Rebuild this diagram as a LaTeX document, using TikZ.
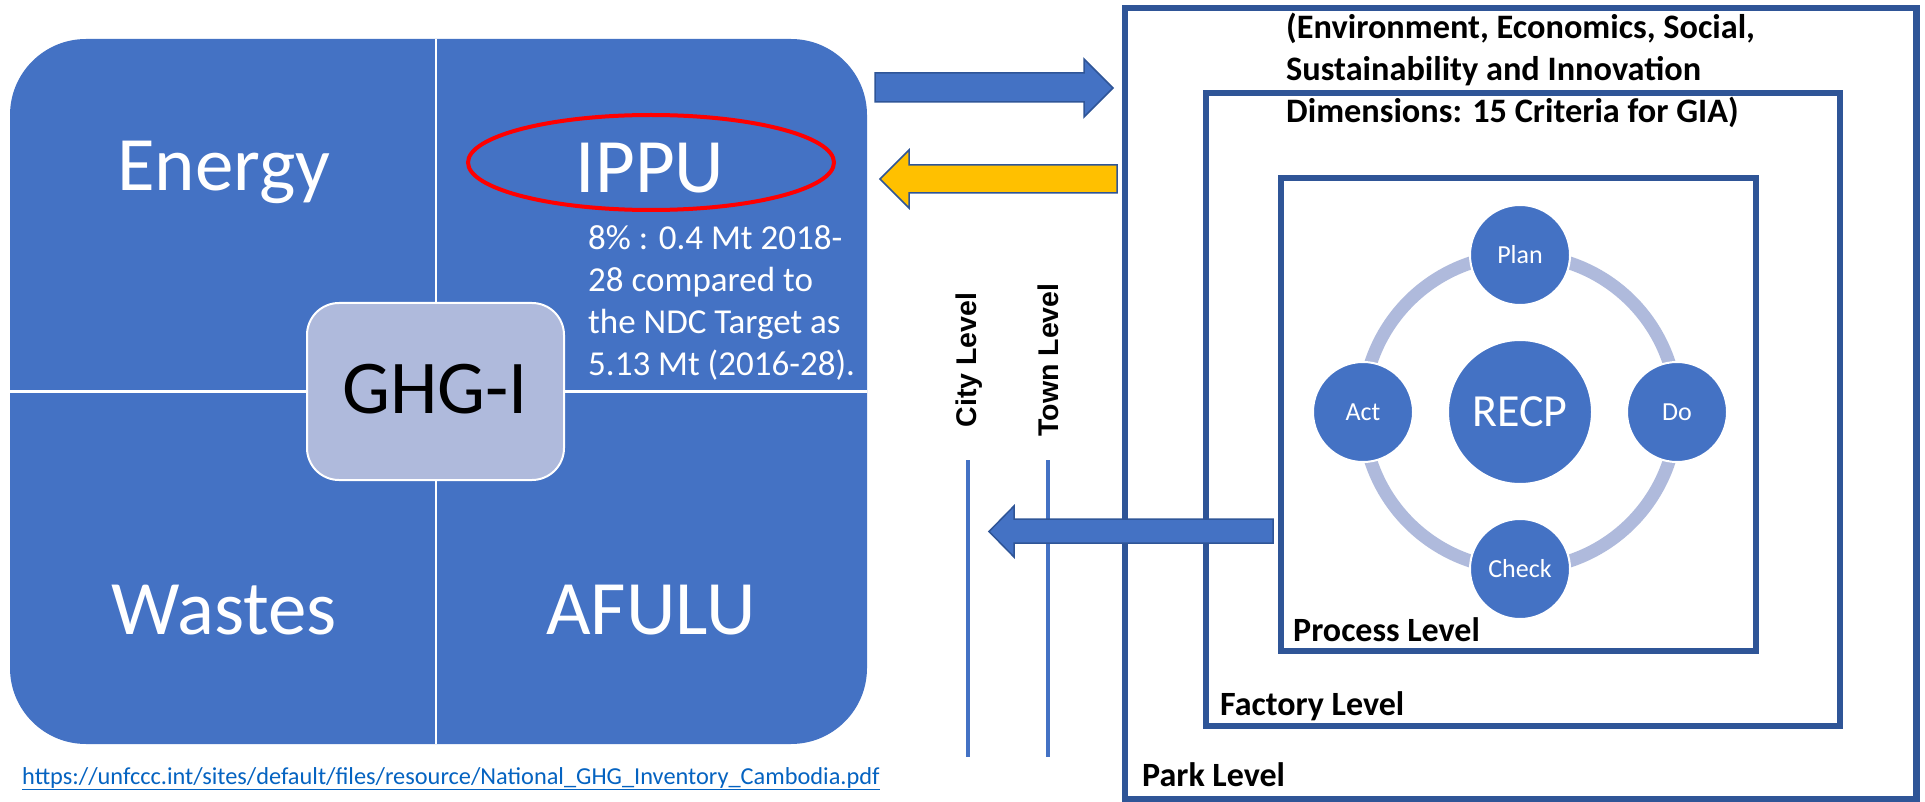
\documentclass[tikz,border=0pt]{standalone}
\usepackage{fontspec}
\setmainfont{Carlito}
\newfontfamily\arialfont{Liberation Sans}
\usetikzlibrary{calc}
\definecolor{blueA}{HTML}{4472C4}
\definecolor{blueD}{HTML}{2F5597}
\definecolor{lav}{HTML}{AFBADC}
\definecolor{gold}{HTML}{FFC000}
\definecolor{linkc}{HTML}{0563C1}
\tikzset{
  quad/.style={text=white, inner sep=0pt, anchor=base, font=\fontsize{77}{92}\selectfont},
  levelbox/.style={draw=blueD, line width=6.5pt},
  lvl/.style={inner sep=0pt, anchor=base west, font=\fontsize{34}{40}\selectfont\bfseries},
  blockarrow/.style={draw=blueD, line width=1.5pt, line join=miter},
  pdca/.style={circle, fill=blueA, draw=white, line width=2pt, text=white, inner sep=0pt, minimum size=100pt, font=\fontsize{26}{30}\selectfont},
  vline/.style={draw=blueA, line width=3.5pt},
  vtext/.style={rotate=90, inner sep=0pt, font=\fontsize{28.5}{34}\selectfont\arialfont\bfseries}
}
\begin{document}
\begin{tikzpicture}[x=1pt,y=-1pt]
\useasboundingbox (0,0) rectangle (1925,802);
\fill[white] (0,0) rectangle (1925,802);
% ---------- left panel ----------
\fill[blueA, rounded corners=76pt] (10,39) rectangle (867,744);
\coordinate (vtop) at (436,39);
\coordinate (vbot) at (436,744);
\coordinate (hl) at (10,391.5);
\coordinate (hr) at (867,391.5);
\draw[white, line width=2.5pt] (vtop) -- (vbot);
\draw[white, line width=2.5pt] (hl) -- (hr);
\node[rectangle, rounded corners=32pt, fill=lav, draw=white, line width=2pt, minimum width=257pt, minimum height=177pt, inner sep=0pt] (ghgbox) at (435.5,391.5) {};
\node[inner sep=0pt, anchor=base, font=\fontsize{76}{90}\selectfont] (ghg) at (435,413) {GHG-I};
\node[quad] (energy) at (224,191) {Energy};
\node[quad] (ippu) at (650,193) {IPPU};
\node[quad] (wastes) at (224,634) {Wastes};
\node[quad] (afulu) at (651,634) {AFULU};
\draw[red, line width=4pt] (651,162.5) ellipse [x radius=183, y radius=47.5];
\node[inner sep=0pt, anchor=base west, text=white, font=\fontsize{35}{42}\selectfont] (desc) at (588,250)
  {\parbox[t]{330pt}{\raggedright 8\% : 0.4 Mt 2018-\\28 compared to\\the NDC Target as\\5.13 Mt (2016-28).}};
\node[inner sep=0pt, anchor=base west, text=linkc, font=\fontsize{24.35}{28}\selectfont] (link) at (22,784)
  {\underline{https://unfccc.int/sites/default/files/resource/National\_GHG\_Inventory\_Cambodia.pdf}};
% ---------- right panel boxes ----------
\draw[levelbox] (1125,8) rectangle (1916.5,799.5);
\draw[levelbox] (1206,93) rectangle (1840,726);
\draw[levelbox] (1281,178) rectangle (1756,651);
\node[lvl, anchor=base west] (heading) at (1286,39)
  {\parbox[t]{620pt}{\fontsize{34.3}{42}\selectfont\bfseries\raggedright (Environment, Economics, Social,\\Sustainability and Innovation\\Dimensions: 15 Criteria for GIA)}};
\node[lvl] (proc) at (1293,641) {Process Level};
\node[lvl] (fact) at (1220,715) {Factory Level};
\node[lvl] (park) at (1142,786) {Park Level};
% ---------- PDCA cycle ----------
\coordinate (cc) at (1520,412);
\draw[lav, line width=13pt] (cc) circle (157pt);
\node[circle, fill=blueA, draw=white, line width=2pt, minimum size=144pt, inner sep=0pt, text=white, font=\fontsize{46}{54}\selectfont] (recp) at (cc) {RECP};
\node[pdca] (plan) at (1520,255) {Plan};
\node[pdca] (do) at (1677,412) {Do};
\node[pdca] (check) at (1520,569) {Check};
\node[pdca] (act) at (1363,412) {Act};
% ---------- city / town lines ----------
\coordinate (c1) at (968,460);
\coordinate (c2) at (968,757);
\coordinate (t1) at (1048,460);
\coordinate (t2) at (1048,757);
\draw[vline] (c1) -- (c2);
\draw[vline] (t1) -- (t2);
\node[vtext] (city) at (969,360) {City Level};
\node[vtext] (town) at (1048,360) {Town Level};
% ---------- block arrows ----------
\draw[blockarrow, fill=blueA] (875,73) -- (1084,73) -- (1084,59) -- (1113,88) -- (1084,117) -- (1084,102) -- (875,102) -- cycle;
\draw[blockarrow, fill=gold] (1117,165) -- (909,165) -- (909,150) -- (880,179) -- (909,208) -- (909,193) -- (1117,193) -- cycle;
\draw[blockarrow, fill=blueA] (1273,519) -- (1014,519) -- (1014,506) -- (989,531.5) -- (1014,557) -- (1014,543) -- (1273,543) -- cycle;
\end{tikzpicture}
\end{document}
